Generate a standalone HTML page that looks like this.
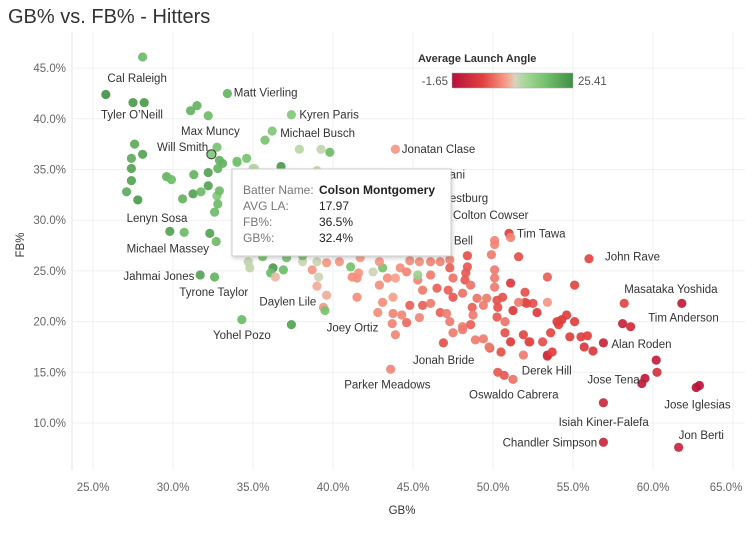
<!DOCTYPE html>
<html><head><meta charset="utf-8">
<style>
html,body{margin:0;padding:0;background:#fff;}
body{width:754px;height:528px;overflow:hidden;font-family:"Liberation Sans",sans-serif;}
svg text{font-family:"Liberation Sans",sans-serif;}
</style></head>
<body>
<svg id="chart" width="754" height="528" xmlns="http://www.w3.org/2000/svg">
<defs>
<linearGradient id="lagrad" x1="0" x2="1" y1="0" y2="0">
<stop offset="0" stop-color="#b5103a"/><stop offset="0.25" stop-color="#e0403e"/><stop offset="0.45" stop-color="#f7a08a"/><stop offset="0.52" stop-color="#d9d2c0"/><stop offset="0.6" stop-color="#a8d89a"/><stop offset="0.78" stop-color="#72c06c"/><stop offset="1" stop-color="#3f8f44"/>
</linearGradient>
<filter id="sh" x="-10%" y="-10%" width="120%" height="130%"><feDropShadow dx="1" dy="2" stdDeviation="2" flood-color="#000" flood-opacity="0.18"/></filter>
</defs>
<text x="8" y="23" font-size="20" fill="#333">GB% vs. FB% - Hitters</text>
<g id="grid"></g>
<g id="axes"></g>
<g id="dots"></g>
<g id="labels"></g>
<g>
<text x="418" y="62" font-size="11" font-weight="bold" fill="#333">Average Launch Angle</text>
<rect x="452" y="73" width="121" height="15" fill="url(#lagrad)" stroke="#aaa" stroke-width="0.5"/>
<text x="448" y="85" font-size="11.5" fill="#555" text-anchor="end">-1.65</text>
<text x="578" y="85" font-size="11.5" fill="#555">25.41</text>
</g>
<g filter="url(#sh)">
<rect x="232" y="169" width="219" height="87" fill="#fff" stroke="#ccc" stroke-width="1"/>
</g>
<g font-size="12">
<text x="243" y="194" fill="#777">Batter Name:</text><text x="319" y="194" fill="#222" font-weight="bold">Colson Montgomery</text>
<text x="243" y="210" fill="#777">AVG LA:</text><text x="319" y="210" fill="#222">17.97</text>
<text x="243" y="226" fill="#777">FB%:</text><text x="319" y="226" fill="#222">36.5%</text>
<text x="243" y="242" fill="#777">GB%:</text><text x="319" y="242" fill="#222">32.4%</text>
</g>
</svg>
<script>
const xTicks = [25,30,35,40,45,50,55,60,65];
const yTicks = [10,15,20,25,30,35,40,45];
const gbVals = [28.1,25.8,27.5,28.2,31.1,31.5,32.2,33.4,37.4,36.2,35.75,37.9,39.25,39.8,43.9,32.75,27.6,28.1,27.4,27.4,27.4,27.1,27.8,29.6,29.9,31.3,32.2,32.2,32.8,32.9,33.1,34.0,34.6,36.75,30.6,31.25,31.75,32.75,32.9,32.8,32.6,29.8,30.7,32.3,32.7,31.7,32.6,35.0,39.0,34.0,35.1,34.7,34.8,36.25,36.9,36.1,36.4,38.7,39.1,39.0,39.6,39.4,39.5,34.3,37.4,38.1,39.0,39.6,38.1,37.1,35.6,41.6,41.5,51.0,51.1,50.1,50.1,49.9,48.4,51.6,48.4,50.1,50.1,50.1,51.1,53.4,48.3,48.25,48.6,47.3,46.7,46.1,45.4,44.8,47.3,47.5,46.1,45.3,45.6,46.5,47.2,47.5,48.1,49.0,49.6,50.6,50.3,51.25,52.0,52.5,52.75,53.4,44.8,45.6,46.1,46.7,47.1,48.7,48.75,49.4,50.25,50.75,47.3,48.1,48.6,47.5,48.1,48.9,49.4,49.8,50.5,50.75,51.1,51.9,52.3,53.1,53.4,51.9,46.9,43.6,42.8,43.75,44.3,44.6,45.4,43.7,43.9,43.1,43.75,42.9,43.4,42.5,41.1,43.1,41.5,41.2,44.2,44.6,45.3,43.9,50.3,50.7,51.25,53.4,53.7,53.6,54.3,54.6,54.1,52.1,52.0,56.0,55.1,58.2,61.8,58.1,58.6,50.25,51.6,54.0,55.1,54.8,55.5,55.9,55.7,56.25,56.9,52.25,49.75,60.2,60.25,59.5,59.3,62.9,62.7,56.9,56.9,61.6,40.4,41.7,42.9,32.4];
const fbVals = [46.1,42.4,41.6,41.6,40.8,41.3,40.3,42.5,40.4,38.8,37.9,37.0,37.0,36.7,37.0,37.2,37.5,36.5,36.1,35.1,33.9,32.8,32.0,34.3,34.0,34.5,34.7,33.4,35.1,35.9,35.6,35.8,36.1,35.3,32.1,32.6,32.8,32.4,32.9,31.6,30.8,28.9,28.8,28.7,27.9,24.6,24.4,35.1,34.9,35.7,35.1,25.9,25.3,25.3,25.1,24.8,24.4,25.1,24.4,23.5,22.6,21.4,21.1,20.2,19.7,25.9,25.9,25.8,26.5,26.3,26.4,24.8,22.4,28.7,28.3,28.0,27.6,26.6,26.5,26.4,25.4,25.1,24.3,23.4,23.8,24.4,24.8,24.1,23.6,26.1,25.9,25.9,25.9,26.0,25.3,24.3,24.6,24.1,23.1,23.3,23.1,22.4,22.8,22.3,22.3,22.4,21.4,21.1,21.9,21.8,20.9,21.9,21.6,21.6,21.8,20.9,20.8,21.4,20.65,21.6,20.45,20.0,20.0,19.5,19.7,18.9,19.2,18.2,18.3,17.4,17.0,18.9,18.0,18.7,18.0,18.0,16.7,16.7,17.9,15.3,20.9,20.8,20.65,19.9,20.4,19.8,18.7,21.9,22.4,23.6,24.3,24.9,25.4,25.3,24.3,24.4,25.3,24.9,24.6,24.3,15.0,14.7,14.3,16.6,17.0,18.9,20.2,20.65,19.7,21.8,22.9,26.2,23.6,21.8,21.8,19.8,19.5,22.1,21.9,20.0,20.0,18.5,18.5,18.6,17.5,17.1,17.9,18.0,17.5,16.2,15.0,14.4,13.9,13.7,13.5,12.0,8.1,7.6,25.9,26.3,25.9,36.5];
const laVals = [20,25,24,24,21,21,20,21,18,18,19,14,13.5,20,10,19,22,23,22,23,23,22,24,21,20,21,23,23,21,21,21,20,19,24,21,23,20,18,20,20,20,23,20,23,20,23,21,14,13.5,19,14,13.5,13.5,24,20,20,11.5,10,13,11,11,10,19,20,23,13,13,10,19,19,19,10,9.5,5,9,9,9,8.5,6,6,6.5,8.5,8.5,8.5,4,7,6.5,6.5,8,9,9,9,9.5,9.5,7,8,8.5,9,8.5,7,7,6.5,8,8,8.5,6,6,4,6,6,4.5,10,7,7,8.5,7,8.5,7,8.5,8.5,6.5,8,8.5,8.5,7,8.5,8.5,8.5,8.5,6,6,6,4.5,5.5,6,6,1,8.5,6,9,9.5,9,9,7.5,9,9,9,9.5,10.5,9.5,9.5,13,19,19,9.5,9.5,9.5,9,16,10.5,6.5,6.5,8,3,5,5.5,4,5,5,5.5,6,5.5,5.5,5.5,0,1,2.5,6,8.5,5,5,5,5,5,4,4,1.5,5.5,8.5,0.5,3,0,0,-1,-1,2,1.5,1.5,10,10.5,10,17.97];
const labelNames = ["Cal Raleigh","Tyler O\u2019Neill","Matt Vierling","Kyren Paris","Max Muncy","Michael Busch","Will Smith","Jonatan Clase","Shohei Ohtani","Jordan Westburg","Colton Cowser","Josh Bell","Lenyn Sosa","Michael Massey","Jahmai Jones","Tyrone Taylor","Daylen Lile","Yohel Pozo","Joey Ortiz","Jonah Bride","Parker Meadows","Derek Hill","Oswaldo Cabrera","Tim Tawa","John Rave","Masataka Yoshida","Tim Anderson","Alan Roden","Jose Tena","Jose Iglesias","Isiah Kiner-Falefa","Jon Berti","Chandler Simpson"];
const labelGb = [25.9,25.5,33.8,37.9,30.5,36.7,29.0,44.3,48.25,49.7,47.5,48.75,27.1,27.1,26.9,30.4,35.4,32.5,39.6,45.0,40.7,51.8,48.5,51.5,57.0,58.2,59.7,57.4,55.9,60.7,54.1,61.6,50.6];
const labelFb = [44.0,40.4,42.6,40.4,38.8,38.6,37.2,37.0,34.5,32.2,30.5,28.0,30.2,27.2,24.5,22.9,22.0,18.7,19.4,16.2,13.8,15.2,12.8,28.7,26.4,23.2,20.4,17.8,14.3,11.8,10.1,8.8,8.1];
const labelAnchor = ["start","start","start","start","start","start","start","start","end","end","start","end","start","start","start","start","start","start","start","start","start","start","start","start","start","start","start","start","start","start","start","start","start"];

const NS="http://www.w3.org/2000/svg";
const L=72,R=745,T=32,B=470;
function xs(v){return 93+(v-25)*16;}
function ys(v){return 423-(v-10)*10.14;}
const stops=[[0,[181,16,58]],[0.25,[224,64,62]],[0.45,[247,160,138]],[0.52,[217,210,192]],[0.6,[168,216,154]],[0.78,[114,192,108]],[1,[63,143,68]]];
function col(la){let f=(la+1.65)/27.06;f=Math.max(0,Math.min(1,f));
 for(let i=1;i<stops.length;i++){if(f<=stops[i][0]){const a=stops[i-1],b=stops[i];const t=(f-a[0])/(b[0]-a[0]);
 return 'rgb('+a[1].map((c,k)=>Math.round(c+(b[1][k]-c)*t)).join(',')+')';}}return 'rgb(63,143,68)';}
const grid=document.getElementById('grid'),axes=document.getElementById('axes'),dots=document.getElementById('dots'),labs=document.getElementById('labels');
function mk(tag,attrs,parent){const e=document.createElementNS(NS,tag);for(const k in attrs)e.setAttribute(k,attrs[k]);parent.appendChild(e);return e;}
const border=mk('line',{x1:L,x2:L,y1:T,y2:B,stroke:'#e6e6e6'},grid);


xTicks.forEach(t=>{const g=mk('line',{x1:xs(t),x2:xs(t),y1:T,y2:B,stroke:'#f0f0f0'},grid);
 
 
 const tx=mk('text',{x:Math.min(xs(t),726),y:491,'font-size':'11.5',fill:'#666','text-anchor':'middle'},axes);tx.textContent=t.toFixed(1)+'%';
 
 });
yTicks.forEach(t=>{const g=mk('line',{x1:L,x2:R,y1:ys(t),y2:ys(t),stroke:'#f0f0f0'},grid);
 
 
 const tx=mk('text',{x:66,y:ys(t)+4,'font-size':'11.5',fill:'#666','text-anchor':'end'},axes);tx.textContent=t.toFixed(1)+'%';
 
 });
const xt=mk('text',{x:402,y:514,'font-size':'11.5',fill:'#333','text-anchor':'middle'},axes);xt.textContent='GB%';


const yt=mk('text',{x:24,y:245,'font-size':'11.5',fill:'#333','text-anchor':'middle',transform:'rotate(-90 24 245)'},axes);yt.textContent='FB%';


for(let i=0;i<gbVals.length;i++){const last=i===gbVals.length-1;
 const c=mk('circle',{cx:xs(gbVals[i]),cy:ys(fbVals[i]),r:4.6,fill:col(laVals[i]),'fill-opacity':0.92},dots);
 if(last){c.setAttribute('stroke','#333');c.setAttribute('stroke-width','1');}
 
 }
for(let i=0;i<labelNames.length;i++){const t=mk('text',{x:xs(labelGb[i]),y:ys(labelFb[i])+4,'font-size':'11.5',fill:'#333','text-anchor':labelAnchor[i]},labs);t.textContent=labelNames[i];
 
 }
</script>
</body></html>
